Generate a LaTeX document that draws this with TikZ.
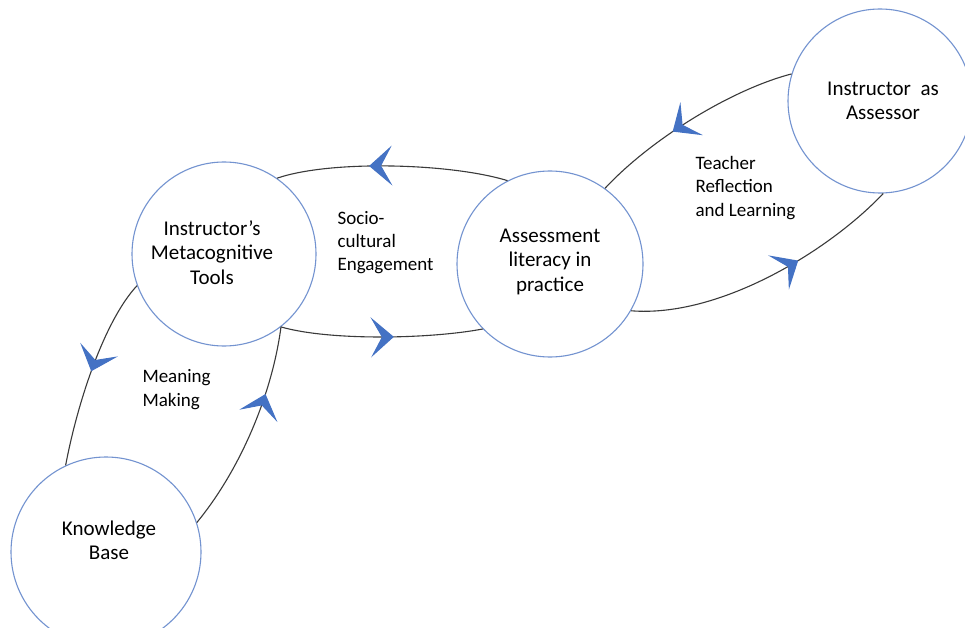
\documentclass[tikz,border=0pt]{standalone}
\usepackage{fontspec}
\setmainfont{Carlito}
\usetikzlibrary{arrows.meta,decorations.markings}
\definecolor{circblue}{HTML}{7393D0}
\definecolor{arrblue}{HTML}{4472C4}
\definecolor{linegray}{HTML}{3A3A3A}
\tikzset{
  bigcirc/.style={circle, draw=circblue, line width=1.1pt, inner sep=0pt, minimum size=#1},
  ctext/.style={align=center, font=\fontsize{21}{24.5}\selectfont, text=black},
  ltext/.style={align=left, anchor=west, font=\fontsize{19}{23.3}\selectfont, text=black},
  conn/.style={draw=linegray, line width=1.1pt},
  midarrow/.style={postaction={decorate}, decoration={markings, mark=at position #1 with {\arrow[arrblue]{Stealth[length=23pt,width=40pt,inset=11pt]}}}}
}
\begin{document}
\begin{tikzpicture}[x=1pt,y=-1pt]
\useasboundingbox (0,0) rectangle (965,628);
\fill[white] (0,0) rectangle (965,628);
% circles
\node[bigcirc=184pt] (M) at (224,254) {};
\node[bigcirc=186pt] (A) at (550,264) {};
\node[bigcirc=184pt] (S) at (880,101) {};
\node[bigcirc=190pt] (K) at (106,552) {};
% circle texts
\node[ctext] (Mt) at (212,252.5) {Instructor’s\\Metacognitive\\Tools};
\node[ctext] (At) at (550,261.5) {Assessment\\literacy in\ \\practice};
\node[ctext] (St) at (883,101) {Instructor\ \ as\\Assessor};
\node[ctext] (Kt) at (109,540.5) {Knowledge\\Base};
% connector labels
\node[ltext] (L1) at (334,242.5) {Socio-\\cultural\\Engagement};
\node[ltext] (L2) at (692,188) {Teacher\\Reflection\\and Learning};
\node[ltext] (L3) at (139,389.5) {Meaning\\Making};
% connectors
\path[conn, midarrow=0.6] (A.117) .. controls (450,163) and (330,160) .. (M.55);
\path[conn, midarrow=0.56] (M.-52) .. controls (330,341) and (430,339) .. (A.224);
\path[conn, midarrow=0.5] (M.200) .. controls (105,320) and (78,400) .. (K.115);
\path[conn, midarrow=0.68] (K.18) .. controls (240,470) and (272,395) .. (M.-52);
\path[conn, midarrow=0.6] (S.163) .. controls (730,90) and (650,140) .. (A.54);
\path[conn, midarrow=0.62] (A.-30) .. controls (720,318) and (830,250) .. (S.-88);
\end{tikzpicture}
\end{document}
